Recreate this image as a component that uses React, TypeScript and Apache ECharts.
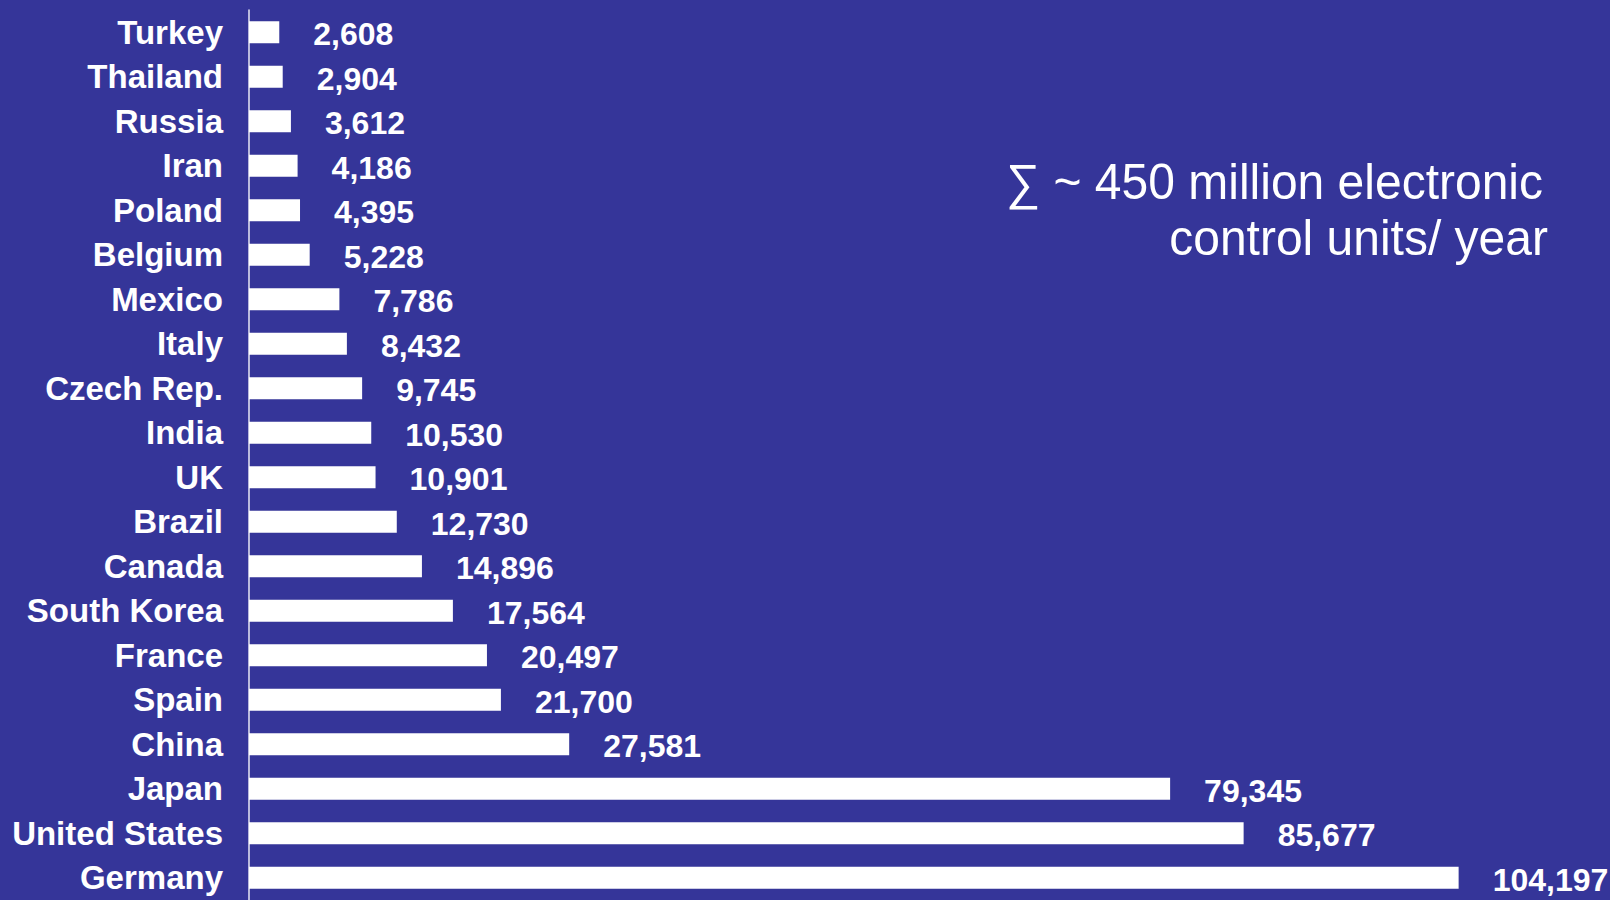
import React, { useEffect, useRef } from "react";
import * as echarts from "echarts";

const countries = [
  "Turkey", "Thailand", "Russia", "Iran", "Poland", "Belgium", "Mexico", "Italy",
  "Czech Rep.", "India", "UK", "Brazil", "Canada", "South Korea", "France", "Spain",
  "China", "Japan", "United States", "Germany",
];
const units = [
  2608, 2904, 3612, 4186, 4395, 5228, 7786, 8432, 9745, 10530, 10901, 12730, 14896,
  17564, 20497, 21700, 27581, 79345, 85677, 104197,
];
const noteLine1 = "∑ ~ 450 million electronic";
const noteLine2 = "control units/ year";

const BG = "#353599";
const FONT = '"Liberation Sans", Arial, sans-serif';

export default function App() {
  const ref = useRef<HTMLDivElement>(null);
  useEffect(() => {
    document.body.style.margin = "0";
    const chart = echarts.init(ref.current!, null, { renderer: "svg" });
    chart.setOption({
      animation: false,
      backgroundColor: BG,
      grid: { left: 249, top: 10, width: 1277, height: 894 },
      xAxis: { type: "value", min: 0, max: 110000, show: false },
      yAxis: {
        type: "category",
        inverse: true,
        data: countries,
        axisLine: { show: true, lineStyle: { color: "#e8e8f4", width: 1.5 } },
        axisTick: { show: false },
        splitLine: { show: false },
        axisLabel: {
          color: "#ffffff",
          fontSize: 33,
          fontWeight: "bold",
          fontFamily: FONT,
          margin: 26,
        },
      },
      series: [
        {
          type: "bar",
          data: units,
          barWidth: 22,
          itemStyle: { color: "#ffffff" },
          label: {
            show: true,
            position: "right",
            distance: 34,
            offset: [0, 2],
            color: "#ffffff",
            fontSize: 32,
            fontWeight: "bold",
            fontFamily: FONT,
            formatter: (p: any) => Number(p.value).toLocaleString("en-US"),
          },
        },
      ],
      graphic: [
        {
          type: "text",
          x: 1543,
          y: 182,
          scaleY: 1.03,
          style: {
            text: noteLine1,
            fill: "#ffffff",
            font: `normal 48px ${FONT}`,
            textAlign: "right",
            textVerticalAlign: "middle",
          },
        },
        {
          type: "text",
          x: 1548,
          y: 238,
          scaleY: 1.03,
          style: {
            text: noteLine2,
            fill: "#ffffff",
            font: `normal 48px ${FONT}`,
            textAlign: "right",
            textVerticalAlign: "middle",
          },
        },
      ],
    });
    return () => chart.dispose();
  }, []);
  return (
    <div
      ref={ref}
      style={{ position: "absolute", left: 0, top: 0, width: 1610, height: 900, background: BG }}
    />
  );
}
